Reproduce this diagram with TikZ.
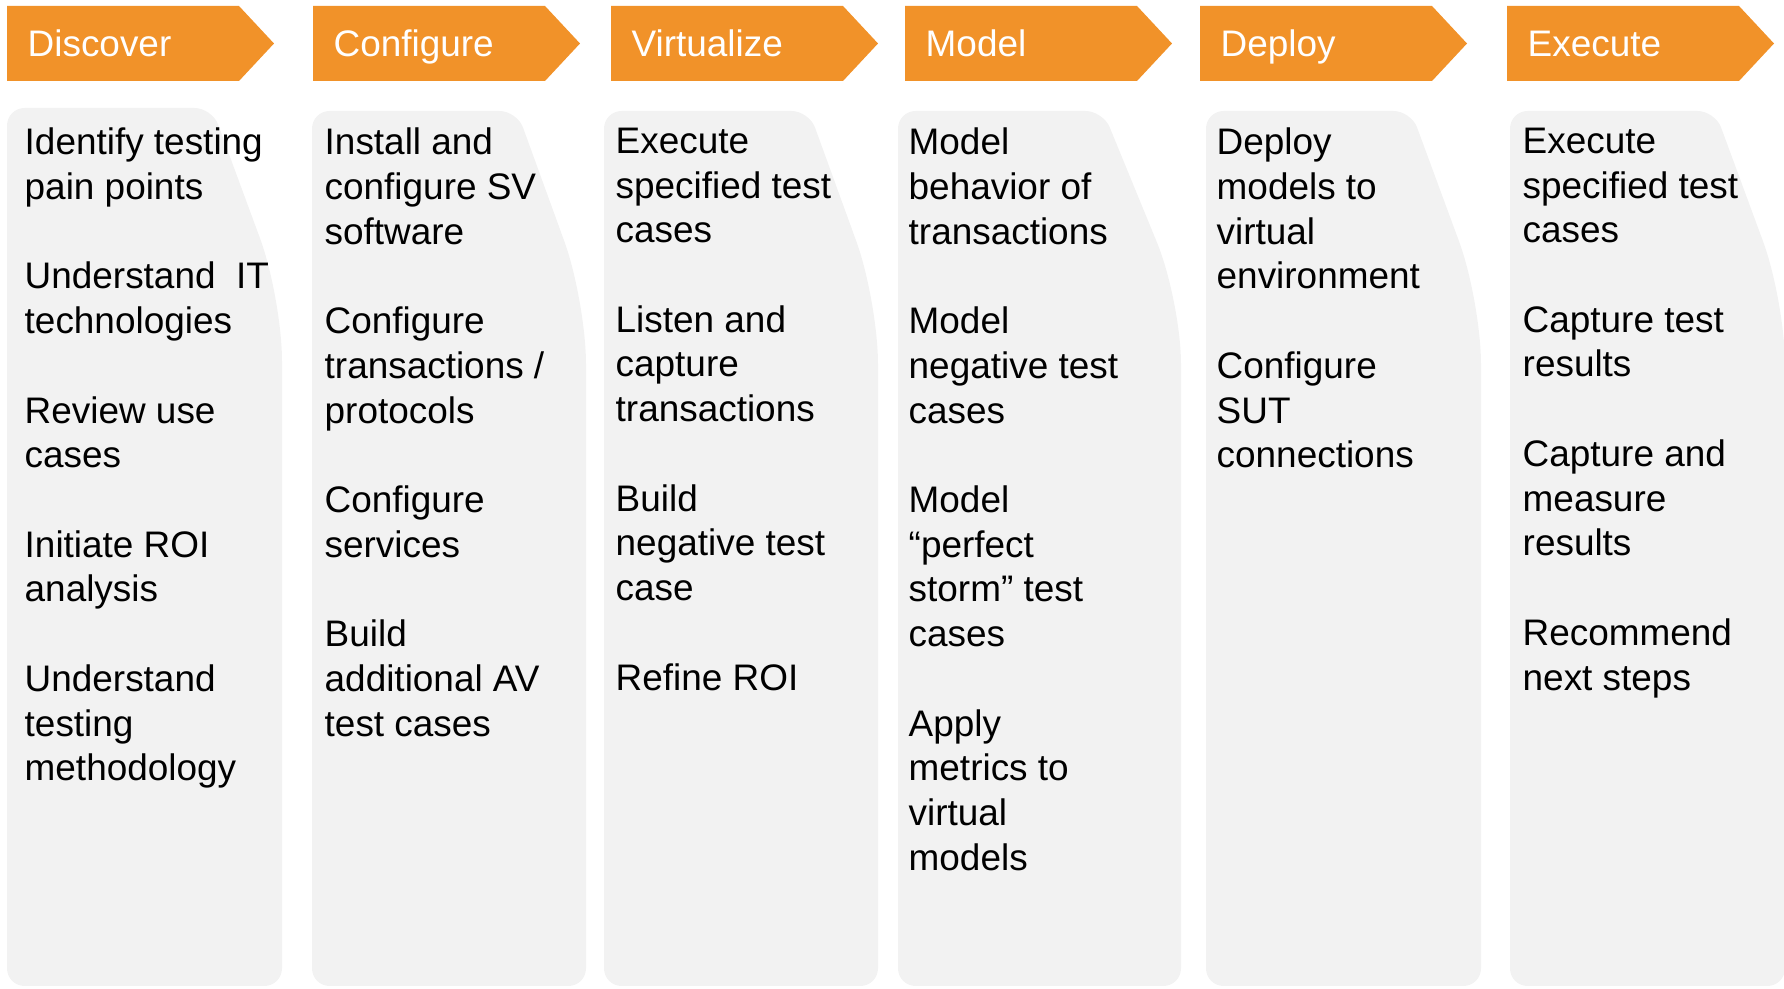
\documentclass[tikz,border=0pt]{standalone}
\usepackage{fontspec}
\setmainfont{Liberation Sans}
\definecolor{stepOrange}{RGB}{241,146,41}
\definecolor{panelGray}{RGB}{242,242,242}

\begin{document}
\begin{tikzpicture}[x=0.01cm,y=-0.01cm]

    \tikzset{
      head/.style={fill=stepOrange},
      headtext/.style={
        text=white,
        anchor=base west,
        inner sep=0pt,
        font=\fontsize{10.5}{12.7}\selectfont,
      },
      panel/.style={fill=panelGray},
      paneltext/.style={
        anchor=north west,
        inner sep=0pt,
        align=left,
        font=\fontsize{10.5}{12.72}\selectfont,
        execute at begin node=\strut,
      },
    }
    \useasboundingbox (0,0) rectangle (1784,989);
    \clip (0,0) rectangle (1784,989);

    % step arrows on top
    \foreach \l/\nm/\lbl in {7/discover/Discover, 313/configure/Configure, 611/virtualize/Virtualize,
                             905/model/Model, 1200/deploy/Deploy, 1507/execute/Execute}{
      \fill[head] (\l,6) -- (\l+232,6) -- (\l+267,43.5) -- (\l+232,81) -- (\l,81) -- cycle;
      \node[headtext] (\nm) at (\l+20,57) {\lbl};
    }

    % grey panels
    \foreach \l/\r/\t in {7/282/108, 312/586/111, 604/878/111, 898/1181/111, 1206/1481/111, 1510/1785/111}{
      \fill[panel] (\l,500) [rounded corners=5pt] -- (\l,\t) -- (\l+205,\t)
        [rounded corners=18pt] -- (\r,\t+190) [rounded corners=5pt] -- (\r,986) -- (\l,986) -- cycle;
    }

    % panel texts
    \node[paneltext] (discovertxt) at (24,127.2) {Identify testing\\pain points\\[12.72pt]
      Understand~ IT\\technologies\\[12.72pt]Review use\\cases\\[12.72pt]
      Initiate ROI\\analysis\\[12.72pt]Understand\\testing\\methodology};
    \node[paneltext] (configuretxt) at (324,127.2) {Install and\\configure SV\\software\\[12.72pt]
      Configure\\transactions /\\protocols\\[12.72pt]Configure\\services\\[12.72pt]
      Build\\additional AV\\test cases};
    \node[paneltext] (virtualizetxt) at (615,127.2) {Execute\\specified test\\cases\\[12.72pt]
      Listen and\\capture\\transactions\\[12.72pt]Build\\negative test\\case\\[12.72pt]
      Refine ROI};
    \node[paneltext] (modeltxt) at (908,127.2) {Model\\behavior of\\transactions\\[12.72pt]
      Model\\negative test\\cases\\[12.72pt]Model\\“perfect\\storm” test\\cases\\[12.72pt]
      Apply\\metrics to\\virtual\\models};
    \node[paneltext] (deploytxt) at (1216,127.2) {Deploy\\models to\\virtual\\environment\\[12.72pt]
      Configure\\SUT\\connections};
    \node[paneltext] (executetxt) at (1522,127.2) {Execute\\specified test\\cases\\[12.72pt]
      Capture test\\results\\[12.72pt]Capture and\\measure\\results\\[12.72pt]
      Recommend\\next steps};

\end{tikzpicture}
\end{document}
